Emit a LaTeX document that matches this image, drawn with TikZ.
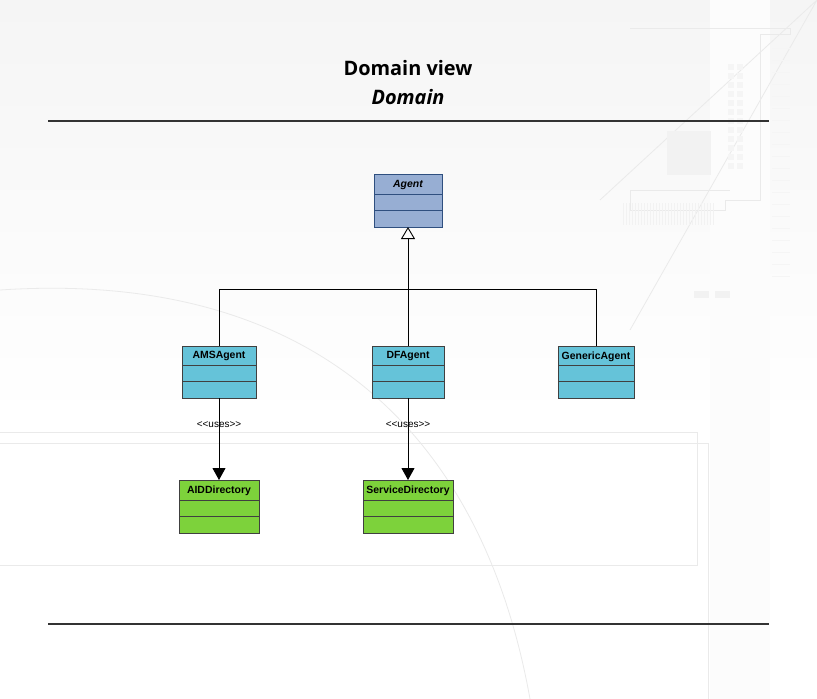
\documentclass[tikz,border=0pt]{standalone}
\usepackage{fontspec}
\setmainfont[Ligatures=NoCommon]{Liberation Sans}
\newfontfamily\titlefont{Open Sans}
\usetikzlibrary{arrows.meta}
\definecolor{agentfill}{HTML}{97AED3}
\definecolor{agentdraw}{HTML}{2F4F7F}
\definecolor{cyanfill}{HTML}{65C3D9}
\definecolor{greenfill}{HTML}{7DD23B}
\definecolor{boxdraw}{HTML}{404040}
\definecolor{bgdeco}{HTML}{EAEAEA}
\definecolor{bgtop}{HTML}{F5F5F5}
\tikzset{
  x=1bp, y=-1bp,
  boxtext/.style={font=\fontsize{10.5}{12}\selectfont\bfseries, inner sep=0pt, anchor=center},
  rowline/.style={line width=0.9bp},
  conn/.style={line width=0.9bp, black},
  gen/.style={conn, -{Triangle[open, length=12bp, width=14bp]}},
  uses/.style={conn, -{Triangle[length=12bp, width=13bp]}},
  lbl/.style={font=\fontsize{10}{12}\selectfont, inner sep=1pt},
  deco/.style={draw=bgdeco, line width=0.8bp},
}
\newcommand{\umlbox}[8]{%
  % #1 name, #2 x1, #3 y1, #4 x2, #5 y2, #6 fill, #7 draw, #8 text
  \filldraw[fill=#6, draw=#7, line width=1bp] (#2,#3) rectangle (#4,#5);
  \coordinate (#1-top) at ({(#2+#4)/2},#3);
  \coordinate (#1-bot) at ({(#2+#4)/2},#5);
  \draw[rowline, draw=#7] (#2,{#3+(#5-#3)*0.38}) -- (#4,{#3+(#5-#3)*0.38});
  \draw[rowline, draw=#7] (#2,{#3+(#5-#3)*0.69}) -- (#4,{#3+(#5-#3)*0.69});
  \node[boxtext] (#1) at ({(#2+#4)/2},{#3+(#5-#3)*0.2}) {#8};
}
\begin{document}
\begin{tikzpicture}
\useasboundingbox (0,0) rectangle (817,699);
\fill[white] (0,0) rectangle (817,699);
% faint background decoration
\shade[top color=bgtop, bottom color=white] (0,0) rectangle (817,420);
\fill[gray!2] (710,0) rectangle (770,699);
\draw[deco] (0,432) -- (697,432) -- (697,565) -- (0,565);
\draw[deco] (0,443) -- (708,443) -- (708,699);
\draw[deco] (0,290) .. controls (300,270) and (480,420) .. (530,699);
\draw[deco] (600,200) -- (817,0) -- (630,330);
\draw[deco] (630,28) -- (790,28) -- (790,34) -- (760,34) -- (760,200) -- (725,200) -- (725,210) -- (630,210) -- (630,190) -- (730,190);
\fill[gray!10] (667,131) rectangle (711,175);
\foreach \i in {0,...,11} {
  \fill[gray!8] (728,{64+\i*9}) rectangle (734,{70+\i*9});
  \fill[gray!8] (737,{64+\i*9}) rectangle (743,{70+\i*9});
}
\foreach \i in {0,...,19} {
  \draw[gray!8, line width=0.8bp] (772,{48+\i*12}) -- (790,{48+\i*12});
}
\foreach \i in {0,...,30} {
  \draw[gray!10, line width=0.6bp] ({623+\i*3},203) -- ({623+\i*3},225);
}
\fill[gray!10] (694,291) rectangle (709,298);
\fill[gray!10] (715,291) rectangle (730,298);
% title
\node[font=\titlefont\fontsize{20}{24}\selectfont\bfseries, inner sep=0pt] (title) at (408,68) {Domain view};
\node[font=\titlefont\fontsize{20}{24}\selectfont\bfseries\itshape, inner sep=0pt] (subtitle) at (408,97) {Domain};
\draw[line width=1.5bp, black!80] (48,121) -- (769,121);
\draw[line width=1.5bp, black!80] (48,624) -- (769,624);
% boxes
\umlbox{agent}{374}{174}{442}{227}{agentfill}{agentdraw}{\itshape Agent}
\umlbox{ams}{182}{346}{256}{398}{cyanfill}{boxdraw}{AMSAgent}
\umlbox{df}{372}{346}{444}{398}{cyanfill}{boxdraw}{DFAgent}
\umlbox{generic}{558}{346}{634}{398}{cyanfill}{boxdraw}{GenericAgent}
\umlbox{aid}{179}{480}{259}{533}{greenfill}{boxdraw}{AIDDirectory}
\umlbox{service}{363}{480}{453}{533}{greenfill}{boxdraw}{ServiceDirectory}
% generalization
\coordinate (junction) at (408,289);
\draw[conn] (ams-top) |- (junction);
\draw[conn] (generic-top) |- (junction);
\draw[gen] (df-top) -- (agent-bot);
% uses
\draw[uses] (ams-bot) -- node[lbl, pos=0.32] (uses1) {{<}{<}uses{>}{>}} (aid-top);
\draw[uses] (df-bot) -- node[lbl, pos=0.32] (uses2) {{<}{<}uses{>}{>}} (service-top);
\end{tikzpicture}
\end{document}
